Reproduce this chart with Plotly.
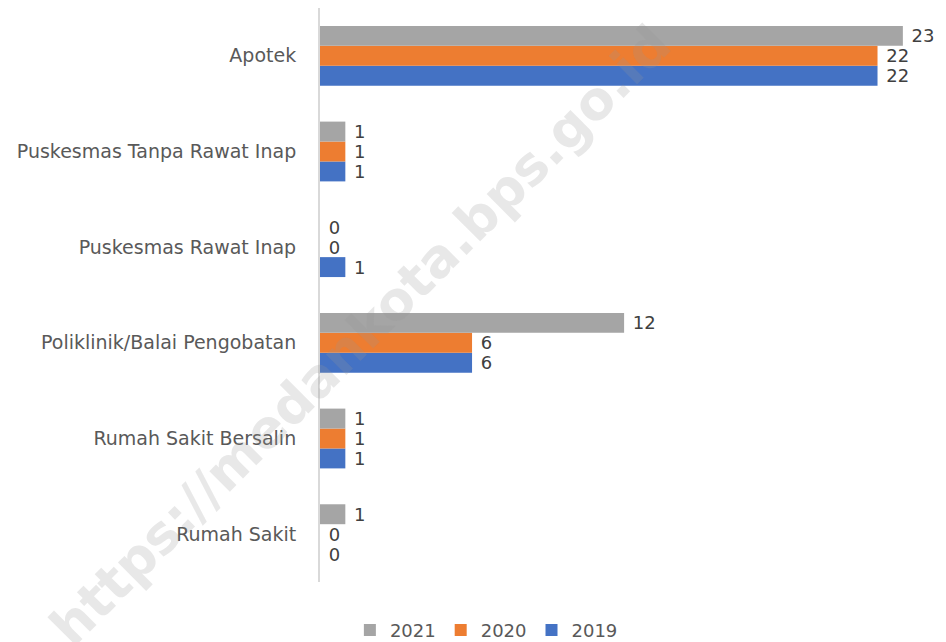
import plotly.graph_objects as go

categories = [
    "Rumah Sakit",
    "Rumah Sakit Bersalin",
    "Poliklinik/Balai Pengobatan",
    "Puskesmas Rawat Inap",
    "Puskesmas Tanpa Rawat Inap",
    "Apotek",
]
values_2019 = [0, 1, 6, 1, 1, 22]
values_2020 = [0, 1, 6, 0, 1, 22]
values_2021 = [1, 1, 12, 0, 1, 23]

series = [
    ("2019", values_2019, "#4472C4"),
    ("2020", values_2020, "#ED7D31"),
    ("2021", values_2021, "#A5A5A5"),
]

font = "DejaVu Sans, Noto Sans, sans-serif"

fig = go.Figure()
for name, vals, color in series:
    fig.add_trace(
        go.Bar(
            y=categories,
            x=vals,
            name=name,
            orientation="h",
            marker={"color": color, "line": {"width": 0}},
            texttemplate=" %{x}",
            textposition="outside",
            cliponaxis=False,
            textfont={"size": 18, "color": "#404040", "family": font},
        )
    )

# watermark
fig.add_annotation(
    text="<b>https://medankota.bps.go.id</b>",
    xref="paper", yref="paper",
    x=0.065, y=0.43,
    xanchor="center", yanchor="middle",
    showarrow=False,
    textangle=-45,
    font={"size": 53, "color": "rgba(150,150,150,0.22)", "family": "DejaVu Sans, sans-serif"},
)

# page body has an 8px margin, so the figure is sized/offset to compensate
fig.update_layout(
    width=938,
    height=634,
    barmode="group",
    bargap=0.375,
    bargroupgap=0,
    margin={"l": 312, "r": 14, "t": 0, "b": 60, "autoexpand": False},
    plot_bgcolor="#ffffff",
    paper_bgcolor="#ffffff",
    font={"family": font, "size": 19, "color": "#595959"},
    showlegend=True,
    legend={
        "orientation": "h",
        "traceorder": "reversed",
        "x": 0.51, "xref": "container", "xanchor": "center",
        "y": -0.084, "yanchor": "middle",
        "font": {"size": 18, "color": "#595959"},
        "itemwidth": 30,
    },
    uniformtext={"mode": "show", "minsize": 18},
)
fig.update_xaxes(visible=False, range=[0, 24.15])
fig.update_yaxes(
    showline=True, linecolor="#D9D9D9", linewidth=2,
    showgrid=False, ticks="", ticklabelstandoff=18,
    tickfont={"size": 19, "color": "#595959"},
)

fig.write_html("out.html")
